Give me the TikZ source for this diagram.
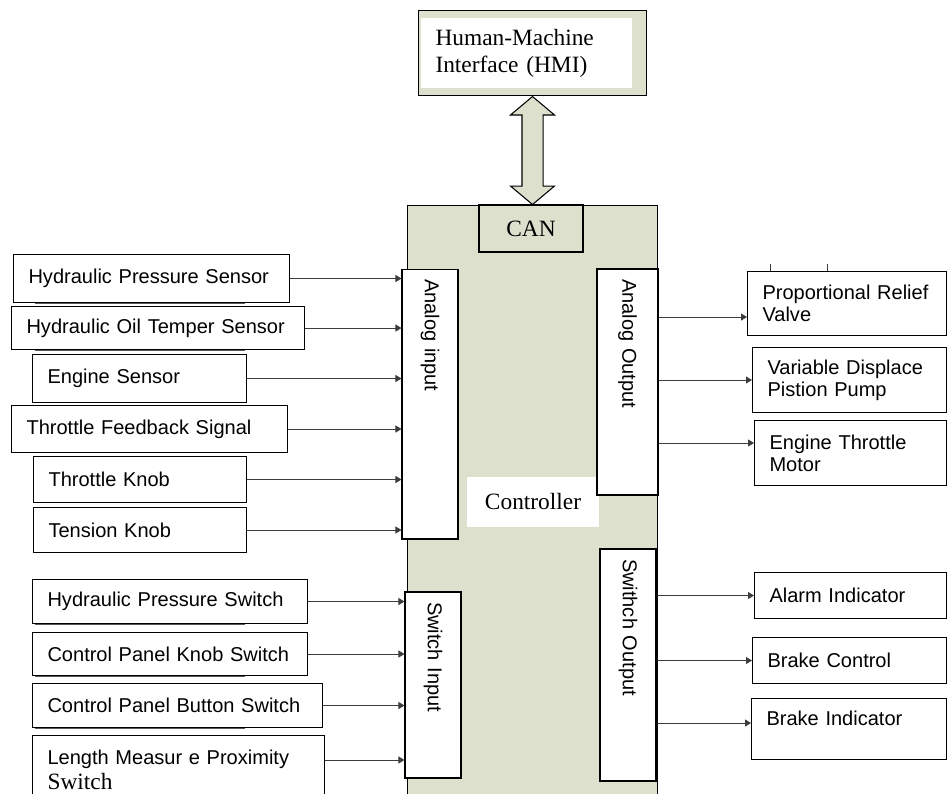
\documentclass[tikz,border=0pt]{standalone}
\usepackage{fontspec}
\setmainfont{Liberation Serif}
\setsansfont{Liberation Sans}
\usetikzlibrary{arrows.meta,calc,shapes.arrows}

\definecolor{ctrlgreen}{RGB}{221,224,204}
\definecolor{linegray}{RGB}{60,60,60}

\newcommand{\sansfont}{\sffamily\fontsize{11.4}{12.5}\selectfont}
\newcommand{\seriffont}{\rmfamily\fontsize{13.3}{15.3}\selectfont}

\tikzset{
    blk/.style={rectangle, draw=black, line width=0.6pt, fill=white, inner ysep=0pt},
    sbox/.style={blk, anchor=north west, align=left, inner xsep=0.3cm, font=\sansfont},
    iobox/.style={blk, rotate=-90, align=left, inner xsep=0.2cm, font=\sansfont},
    sig/.style={-{Triangle[length=1.2mm,width=1.4mm]}, draw=linegray, line width=0.5pt},
}

\begin{document}
\begin{tikzpicture}[x=0.02cm, y=-0.02cm]
        \clip (0,0) rectangle (947,794);

        % controller and HMI
        \node[blk, fill=ctrlgreen, anchor=north west, minimum width=5cm, minimum height=12cm] (ctrl) at (407,205) {};
        \node[blk, fill=ctrlgreen, minimum width=2.08cm, minimum height=0.94cm, font=\seriffont] (can) at (531,228.5) {CAN};
        \node[fill=white, minimum width=2.64cm, minimum height=1cm, font=\seriffont] (ctrllbl) at (533,502) {Controller};
        \node[blk, fill=ctrlgreen, anchor=north west, minimum width=4.56cm, minimum height=1.7cm, inner xsep=0.34cm, text width=3.88cm, align=left, font=\seriffont,
              path picture={\fill[white] ($(path picture bounding box.north west)+(2,7)$) rectangle ($(path picture bounding box.south east)+(-14,-8)$);}] (hmi) at (418,10) {Human-Machine\\Interface (HMI)};
        \node[double arrow, draw=black, line width=0.6pt, fill=ctrlgreen, rotate=90, inner sep=0.2cm, minimum height=2.16cm, double arrow head extend=0.23cm, double arrow tip angle=100] (canlink) at ($(hmi.south)!0.5!(ctrl.north)$) {};

        % input and output blocks
        \node[iobox, minimum width=5.4cm, minimum height=1.12cm, text width=5cm] (ain) at (430,404) {Analog input};
        \node[iobox, minimum width=3.72cm, minimum height=1.12cm, text width=3.32cm] (sin) at (433,685) {Switch Input};
        \node[iobox, minimum width=4.52cm, minimum height=1.22cm, text width=4.12cm] (aout) at (627.5,382) {Analog Output};
        \node[iobox, minimum width=4.64cm, minimum height=1.12cm, text width=4.24cm] (sout) at (628,665) {Swithch Output};

        % sensors and switches
        \foreach \y in {303,350,624,676,728}
            \draw[line width=1.2pt, gray!70!black] (35,\y) -- (245,\y);
        \node[sbox, minimum width=5.52cm, minimum height=0.96cm, text width=4.92cm] (hps) at (13,254) {Hydraulic Pressure Sensor};
        \node[sbox, minimum width=5.86cm, minimum height=0.86cm, text width=5.26cm] (hots) at (11,306) {Hydraulic Oil Temper Sensor};
        \node[sbox, minimum width=4.28cm, minimum height=0.96cm, text width=3.68cm] (eng) at (32,354) {Engine Sensor};
        \node[sbox, minimum width=5.52cm, minimum height=0.94cm, text width=4.92cm] (tfs) at (11,405) {Throttle Feedback Signal};
        \node[sbox, minimum width=4.26cm, minimum height=0.92cm, text width=3.66cm] (tk) at (33,456) {Throttle Knob};
        \node[sbox, minimum width=4.26cm, minimum height=0.9cm, text width=3.66cm] (tnk) at (33,507) {Tension Knob};
        \node[sbox, minimum width=5.5cm, minimum height=0.88cm, text width=4.9cm] (hpsw) at (32,579) {Hydraulic Pressure Switch};
        \node[sbox, minimum width=5.5cm, minimum height=0.86cm, text width=4.9cm] (cpk) at (32,632) {Control Panel Knob Switch};
        \node[sbox, minimum width=5.8cm, minimum height=0.88cm, text width=5.2cm] (cpb) at (32,683) {Control Panel Button Switch};
        \node[sbox, minimum width=5.84cm, minimum height=1.38cm, text width=5.24cm] (lmp) at (32,735) {Length Measur e Proximity\\[1.5pt]{\seriffont Switch}};

        % actuators and indicators
        \node[sbox, minimum width=3.98cm, minimum height=1.28cm, text width=3.38cm] (prv) at (747,271) {Proportional Relief\\Valve};
        \node[sbox, minimum width=3.88cm, minimum height=1.3cm, text width=3.28cm] (vdp) at (752,347) {Variable Displace\\Pistion Pump};
        \node[sbox, minimum width=3.84cm, minimum height=1.3cm, text width=3.24cm] (etm) at (754,420) {Engine Throttle\\Motor};
        \node[sbox, minimum width=3.84cm, minimum height=0.92cm, text width=3.24cm] (alm) at (754,572) {Alarm Indicator};
        \node[sbox, minimum width=3.88cm, minimum height=0.92cm, text width=3.28cm] (brc) at (752,637) {Brake Control};
        \node[sbox, minimum width=3.9cm, minimum height=1.22cm, text width=3.3cm, text depth=0.42cm] (bri) at (751,698) {Brake Indicator};
        \draw[linegray, line width=0.5pt] (770,264) -- (770,271) (827,264) -- (827,271);

        % input signals
        \draw[sig] (hps.east) -- (hps.east -| ain.south);
        \draw[sig] (hots.east) -- (hots.east -| ain.south);
        \draw[sig] (eng.east) -- (eng.east -| ain.south);
        \draw[sig] (tfs.east) -- (tfs.east -| ain.south);
        \draw[sig] (tk.east) -- (tk.east -| ain.south);
        \draw[sig] (tnk.east) -- (tnk.east -| ain.south);
        \draw[sig] (hpsw.east) -- (hpsw.east -| sin.south);
        \draw[sig] (cpk.east) -- (cpk.east -| sin.south);
        \draw[sig] (cpb.east) -- (cpb.east -| sin.south);
        \coordinate (lmpout) at ($(lmp.north east)+(0,25)$);
        \draw[sig] (lmpout) -- (lmpout -| sin.south);

        % output signals
        \coordinate (prvin) at ($(prv.south west)+(0,-19)$);
        \coordinate (etmin) at ($(etm.north west)+(0,23)$);
        \coordinate (briin) at ($(bri.north west)+(0,25)$);
        \draw[sig] (aout.north |- prvin) -- (prvin);
        \draw[sig] (aout.north |- vdp.west) -- (vdp.west);
        \draw[sig] (aout.north |- etmin) -- (etmin);
        \draw[sig] (sout.north |- alm.west) -- (alm.west);
        \draw[sig] (sout.north |- brc.west) -- (brc.west);
        \draw[sig] (sout.north |- briin) -- (briin);
    \end{tikzpicture}
\end{document}
